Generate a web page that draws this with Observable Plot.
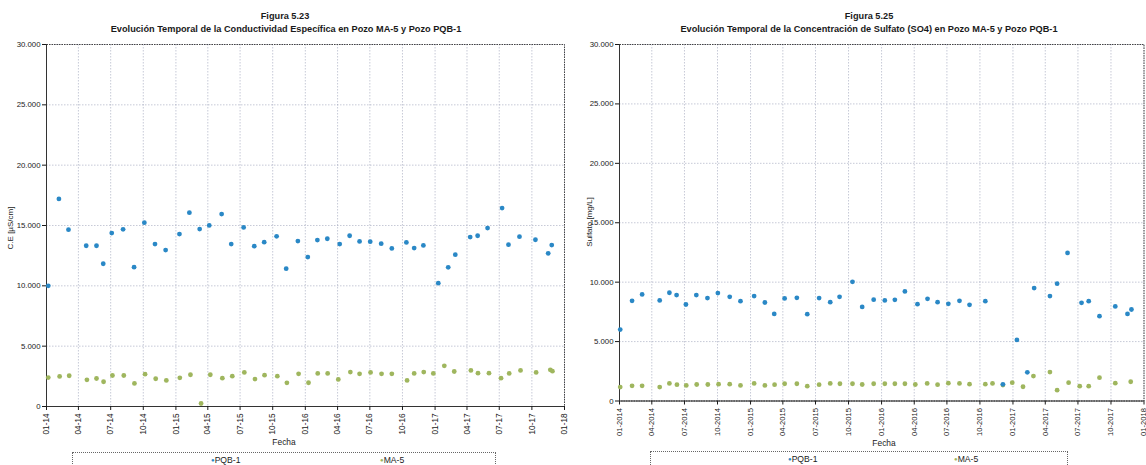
<!DOCTYPE html>
<html><head><meta charset="utf-8">
<script src="https://cdn.jsdelivr.net/npm/d3@7"></script>
<script src="https://cdn.jsdelivr.net/npm/@observablehq/plot@0.6"></script>
<style>
body{margin:0;background:#fff;font-family:"Liberation Sans",Arial,sans-serif;}
#wrap{position:relative;width:1146px;height:465px;overflow:hidden;background:#fff;}
.abs{position:absolute;white-space:nowrap;color:#1a1a1a;line-height:1;}
.ttl{font-weight:bold;font-size:9.2px;transform:translateX(-50%);}
.lab{font-size:8.4px;transform:translateX(-50%);}
.ylab{font-size:8px;transform:translate(-50%,-50%) rotate(-90deg);}
.leg{border:1px dotted #666;height:20px;}
.li{font-size:8.6px;}
.plot{position:absolute;top:0;}
</style>
</head><body>
<div id="wrap"></div>
<script>
// ---- data: Conductividad Específica (µS/cm) ----
const ceDatesPQB = ["2014-01-06","2014-02-05","2014-03-04","2014-04-23","2014-05-22","2014-06-10","2014-07-04","2014-08-05","2014-09-05","2014-10-04","2014-11-03","2014-12-03","2015-01-11","2015-02-08","2015-03-09","2015-04-05","2015-05-10","2015-06-06","2015-07-11","2015-08-10","2015-09-07","2015-10-12","2015-11-08","2015-12-11","2016-01-08","2016-02-04","2016-03-03","2016-04-07","2016-05-05","2016-06-02","2016-07-02","2016-08-02","2016-09-01","2016-10-12","2016-11-03","2016-11-29","2017-01-10","2017-02-07","2017-02-27","2017-04-10","2017-05-01","2017-05-29","2017-07-09","2017-07-27","2017-08-27","2017-10-11","2017-11-16","2017-11-26"];
const cePQB = [10000,17200,14650,13320,13320,11830,14370,14680,11550,15230,13460,12960,14290,16060,14700,15010,15950,13460,14840,13290,13620,14100,11420,13710,12380,13790,13900,13460,14150,13680,13660,13490,13100,13600,13130,13350,10220,11530,12580,14040,14150,14790,16440,13410,14070,13820,12690,13380];
const ceDatesMA5 = ["2014-01-06","2014-02-07","2014-03-06","2014-04-25","2014-05-22","2014-06-11","2014-07-06","2014-08-07","2014-09-06","2014-10-06","2014-11-05","2014-12-05","2015-01-12","2015-02-11","2015-03-13","2015-04-08","2015-05-12","2015-06-09","2015-07-13","2015-08-12","2015-09-08","2015-10-14","2015-11-10","2015-12-13","2016-01-10","2016-02-05","2016-03-04","2016-04-03","2016-05-07","2016-06-02","2016-07-03","2016-08-03","2016-09-01","2016-10-14","2016-11-03","2016-11-30","2016-12-27","2017-01-27","2017-02-24","2017-04-12","2017-05-02","2017-06-02","2017-07-06","2017-07-29","2017-08-30","2017-10-13","2017-11-22","2017-11-28"];
const ceMA5 = [2400,2490,2550,2210,2320,2050,2570,2570,1910,2680,2300,2160,2380,2630,250,2630,2350,2510,2820,2270,2600,2510,1960,2710,1970,2740,2740,2240,2850,2710,2820,2710,2710,2160,2740,2850,2740,3370,2900,2990,2760,2760,2350,2740,2990,2820,3040,2930];

// ---- data: Sulfato (mg/L) ----
const so4DatesPQB = ["2014-01-03","2014-02-05","2014-03-05","2014-04-23","2014-05-20","2014-06-09","2014-07-05","2014-08-03","2014-09-03","2014-10-02","2014-11-04","2014-12-04","2015-01-11","2015-02-10","2015-03-08","2015-04-06","2015-05-10","2015-06-08","2015-07-11","2015-08-11","2015-09-06","2015-10-12","2015-11-08","2015-12-10","2016-01-10","2016-02-07","2016-03-06","2016-04-10","2016-05-08","2016-06-05","2016-07-05","2016-08-05","2016-09-02","2016-10-16","2016-12-04","2017-01-12","2017-02-10","2017-03-01","2017-04-14","2017-05-04","2017-06-02","2017-07-11","2017-07-31","2017-08-30","2017-10-13","2017-11-16","2017-11-27"];
const so4PQB = [6010,8430,8970,8460,9110,8910,8120,8910,8660,9080,8770,8400,8830,8290,7330,8630,8680,7310,8660,8320,8770,10030,7920,8530,8460,8510,9220,8150,8600,8320,8180,8430,8090,8400,1400,5140,2410,9500,8830,9870,12460,8260,8400,7140,7960,7330,7700];
const so4DatesMA5 = ["2014-01-03","2014-02-05","2014-03-05","2014-04-23","2014-05-20","2014-06-10","2014-07-06","2014-08-04","2014-09-04","2014-10-04","2014-11-04","2014-12-04","2015-01-11","2015-02-10","2015-03-09","2015-04-06","2015-05-10","2015-06-08","2015-07-11","2015-08-11","2015-09-07","2015-10-12","2015-11-08","2015-12-10","2016-01-10","2016-02-07","2016-03-06","2016-04-04","2016-05-07","2016-06-05","2016-07-05","2016-08-05","2016-09-02","2016-10-16","2016-11-05","2016-12-04","2016-12-30","2017-01-29","2017-02-27","2017-04-14","2017-05-04","2017-06-05","2017-07-06","2017-07-31","2017-08-30","2017-10-13","2017-11-25"];
const so4MA5 = [1170,1280,1280,1170,1480,1370,1310,1390,1390,1420,1420,1310,1480,1310,1370,1450,1450,1250,1370,1480,1450,1450,1390,1450,1450,1450,1450,1390,1480,1370,1500,1480,1420,1420,1480,1340,1540,1200,2100,2430,910,1540,1250,1250,1960,1500,1620];

const yTicks = [0,5000,10000,15000,20000,25000,30000];
const seriesNames = ["PQB-1","MA-5"];
const colors = ["#2a88c6","#9fb65e"];

const wrap = document.getElementById("wrap");
const start = new Date(Date.UTC(2014,0,1)), end = new Date(Date.UTC(2018,0,1));
const xTicks = d3.utcMonths(start, new Date(Date.UTC(2018,0,2)), 3);
const yFmt = v => v === 0 ? "0" : d3.format(",")(v).replace(/,/g, ".");

function mk(dates, vals){ return dates.map((d,i)=>({date:new Date(d+"T00:00:00Z"), v:vals[i]})); }

function chart(opts){
  const pqb = mk(opts.dP, opts.vP), ma = mk(opts.dM, opts.vM);
  const p = Plot.plot({
    width:573, height:465,
    marginLeft:opts.ml, marginRight:opts.mr, marginTop:44, marginBottom:opts.mb,
    style:{fontFamily:"'Liberation Sans',Arial,sans-serif", fontSize:"8px", color:"#1a1a1a", background:"transparent", overflow:"visible"},
    x:{type:"utc", domain:[start,end]},
    y:{domain:[0,30000]},
    marks:[
      Plot.gridX(xTicks, {stroke:"#9095b0", strokeOpacity:0.5, strokeDasharray:"1.5,1.5"}),
      Plot.gridY(yTicks, {stroke:"#9095b0", strokeOpacity:0.5, strokeDasharray:"1.5,1.5"}),
      Plot.frame({stroke:"#444", strokeDasharray:"1.5,1"}),
      Plot.ruleX([start], {stroke:"#333"}),
      Plot.ruleY([0], {stroke:"#333"}),
      Plot.axisX(xTicks, {tickFormat:d3.utcFormat(opts.xf), tickRotate:-90, tickSize:4, tickPadding:3, label:null, fontSize:opts.xfs}),
      Plot.axisY(yTicks, {tickFormat:yFmt, tickSize:4, tickPadding:2, label:null, fontSize:7.8}),
      Plot.dot(ma, {x:"date", y:"v", r:2.4, fill:colors[1]}),
      Plot.dot(pqb, {x:"date", y:"v", r:2.4, fill:colors[0]})
    ]
  });
  p.classList.add("plot");
  p.style.left = opts.left + "px";
  wrap.appendChild(p);
}

chart({dP:ceDatesPQB, vP:cePQB, dM:ceDatesMA5, vM:ceMA5, ml:46, mr:9, mb:59, left:0, xf:"%m-%y", xfs:8.2});
chart({dP:so4DatesPQB, vP:so4PQB, dM:so4DatesMA5, vM:so4MA5, ml:46, mr:2.5, mb:64.5, left:573, xf:"%m-%Y", xfs:7.6});

function txt(cls, s, x, y, extra){
  const d = document.createElement("div");
  d.className = "abs " + cls; d.textContent = s;
  d.style.left = x + "px"; d.style.top = y + "px";
  if (extra) Object.assign(d.style, extra);
  wrap.appendChild(d); return d;
}
// titles
txt("ttl","Figura 5.23",285,12);
txt("ttl","Evolución Temporal de la Conductividad Específica en Pozo MA-5 y Pozo PQB-1",286,25);
txt("ttl","Figura 5.25",869,12);
txt("ttl","Evolución Temporal de la Concentración de Sulfato (SO4) en Pozo MA-5 y Pozo PQB-1",869,25);
// axis titles
txt("ylab","C.E [µS/cm]",11,228);
txt("ylab","Sulfato [mg/L]",590,222);
txt("lab","Fecha",284,438);
txt("lab","Fecha",884,439);
// legends
function legend(x0, w, top, xP, xM){
  const b = document.createElement("div");
  b.className = "abs leg"; b.style.left = x0+"px"; b.style.top = top+"px"; b.style.width = w+"px";
  wrap.appendChild(b);
  [xP, xM].forEach((x,i)=>{
    const d = txt("li", "", x, top+4);
    const s = document.createElement("span"); s.textContent = "●"; s.style.color = colors[i]; s.style.fontSize="6px"; s.style.verticalAlign="1px";
    d.appendChild(s); d.appendChild(document.createTextNode(seriesNames[i]));
  });
}
legend(72, 422, 452, 211, 380);
legend(650, 416, 451, 788, 954);
</script>
</body></html>
